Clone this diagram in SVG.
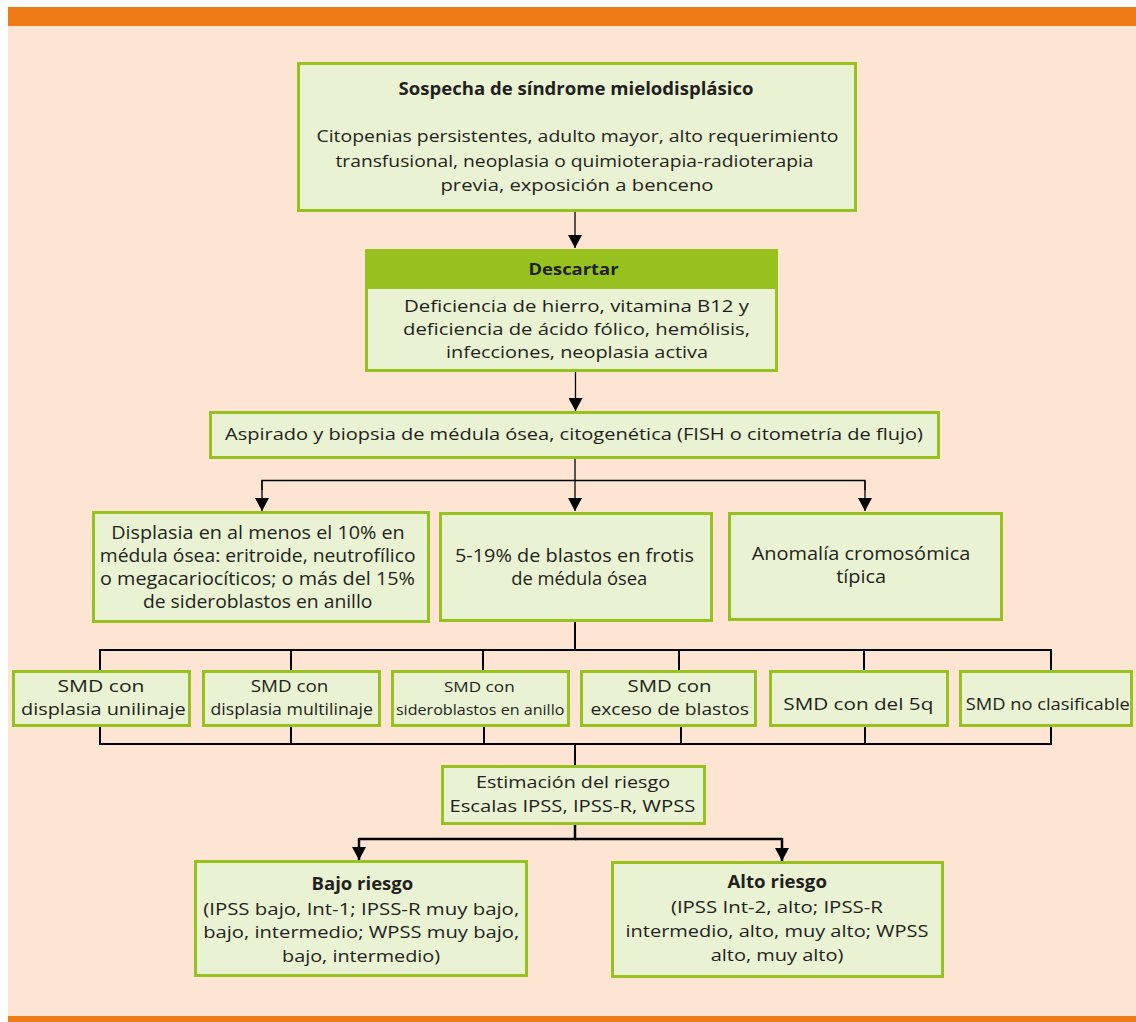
<svg xmlns="http://www.w3.org/2000/svg" width="1136" height="1022" viewBox="0 0 1136 1022">
<defs>
<style>
.box{fill:#e9f2d2;stroke:#97c11f;stroke-width:3}
.hdr{fill:#97c11f;stroke:#97c11f;stroke-width:3}
text{font-family:"Open Sans","Liberation Sans",sans-serif;fill:#231f20;text-anchor:middle}
.b{font-weight:bold}
.thin{fill:none;stroke:#000;stroke-width:1.3}
.thick{fill:none;stroke:#000;stroke-width:2}
.thick3{fill:none;stroke:#000;stroke-width:2.5}
</style>
<marker id="ah" viewBox="0 0 13 14" refX="13" refY="7" markerWidth="13" markerHeight="14" markerUnits="userSpaceOnUse" orient="auto">
<path d="M0,0 L13,7 L0,14 z" fill="#000"/>
</marker>
</defs>
<rect x="0" y="0" width="1136" height="1022" fill="#ffffff"/>
<rect x="8" y="7" width="1128" height="1015" fill="#fde4d3"/>
<rect x="8" y="7" width="1128" height="19" fill="#ef7b17"/>
<rect x="8" y="1016" width="1128" height="6" fill="#ef7b17"/>

<g id="connectors">
<line class="thin" x1="575" y1="212" x2="575" y2="248" marker-end="url(#ah)"/>
<line class="thin" x1="575.5" y1="372" x2="575.5" y2="411" marker-end="url(#ah)"/>
<line class="thin" x1="575" y1="459" x2="575" y2="511" marker-end="url(#ah)"/>
<polyline class="thin" points="262,490 262,480.5 865,480.5 865,490"/>
<line class="thin" x1="262" y1="480.5" x2="262" y2="511" marker-end="url(#ah)"/>
<line class="thin" x1="865" y1="480.5" x2="865" y2="511" marker-end="url(#ah)"/>
<line class="thick" x1="575" y1="622" x2="575" y2="650"/>
<polyline class="thick" points="100,670 100,650 1051,650 1051,670"/>
<line class="thick" x1="291" y1="650" x2="291" y2="670"/>
<line class="thick" x1="483" y1="650" x2="483" y2="670"/>
<line class="thick" x1="679" y1="650" x2="679" y2="670"/>
<line class="thick" x1="864" y1="650" x2="864" y2="670"/>
<polyline class="thick" points="100,727 100,744 1051,744 1051,727"/>
<line class="thick" x1="291" y1="727" x2="291" y2="744"/>
<line class="thick" x1="484" y1="727" x2="484" y2="744"/>
<line class="thick" x1="681" y1="727" x2="681" y2="744"/>
<line class="thick" x1="865" y1="727" x2="865" y2="744"/>
<line class="thick" x1="575" y1="744" x2="575" y2="765"/>
<polyline class="thick3" points="575,825 575,839 359,839"/>
<line class="thick3" x1="359" y1="838" x2="359" y2="860" marker-end="url(#ah)"/>
<polyline class="thick3" points="575,839 782,839"/>
<line class="thick3" x1="782" y1="838" x2="782" y2="861" marker-end="url(#ah)"/>
</g>

<g id="n-sospecha">
<rect class="box" x="298.5" y="63.5" width="557" height="147"/>
<text class="b" x="576" y="95" font-size="17" textLength="355" lengthAdjust="spacingAndGlyphs">Sospecha de síndrome mielodisplásico</text>
<text x="577.5" y="142" font-size="17" textLength="522" lengthAdjust="spacingAndGlyphs">Citopenias persistentes, adulto mayor, alto requerimiento</text>
<text x="574.5" y="166.5" font-size="17" textLength="478" lengthAdjust="spacingAndGlyphs">transfusional, neoplasia o quimioterapia-radioterapia</text>
<text x="577" y="190.5" font-size="17" textLength="273" lengthAdjust="spacingAndGlyphs">previa, exposición a benceno</text>
</g>

<g id="n-descartar">
<rect class="box" x="366.5" y="250.5" width="410" height="120"/>
<rect class="hdr" x="366.5" y="250.5" width="410" height="37"/>
<text class="b" x="573.5" y="275" font-size="16.5" textLength="90" lengthAdjust="spacingAndGlyphs">Descartar</text>
<text x="576.5" y="312" font-size="17" textLength="345" lengthAdjust="spacingAndGlyphs">Deficiencia de hierro, vitamina B12 y</text>
<text x="576.5" y="335" font-size="17" textLength="347" lengthAdjust="spacingAndGlyphs">deficiencia de ácido fólico, hemólisis,</text>
<text x="577" y="358" font-size="17" textLength="262" lengthAdjust="spacingAndGlyphs">infecciones, neoplasia activa</text>
</g>

<g id="n-aspirado">
<rect class="box" x="210.5" y="412.5" width="728" height="45"/>
<text x="574" y="440" font-size="17" textLength="698" lengthAdjust="spacingAndGlyphs">Aspirado y biopsia de médula ósea, citogenética (FISH o citometría de flujo)</text>
</g>

<g id="n-displasia">
<rect class="box" x="93.5" y="512.5" width="335" height="109"/>
<text x="258" y="539" font-size="17.5" textLength="293.5" lengthAdjust="spacingAndGlyphs">Displasia en al menos el 10% en</text>
<text x="257.7" y="562" font-size="17.5" textLength="315.7" lengthAdjust="spacingAndGlyphs">médula ósea: eritroide, neutrofílico</text>
<text x="257.5" y="585" font-size="17.5" textLength="315" lengthAdjust="spacingAndGlyphs">o megacariocíticos; o más del 15%</text>
<text x="257.7" y="608" font-size="17.5" textLength="229.5" lengthAdjust="spacingAndGlyphs">de sideroblastos en anillo</text>
</g>

<g id="n-blastos">
<rect class="box" x="440.5" y="513.5" width="271" height="107"/>
<text x="574.4" y="562" font-size="17.5" textLength="239" lengthAdjust="spacingAndGlyphs">5-19% de blastos en frotis</text>
<text x="579.2" y="585" font-size="17.5" textLength="136" lengthAdjust="spacingAndGlyphs">de médula ósea</text>
</g>

<g id="n-anomalia">
<rect class="box" x="729.5" y="513.5" width="272" height="106"/>
<text x="861" y="560" font-size="17.5" textLength="218.6" lengthAdjust="spacingAndGlyphs">Anomalía cromosómica</text>
<text x="861.2" y="583" font-size="17.5" textLength="50" lengthAdjust="spacingAndGlyphs">típica</text>
</g>

<g id="n-smd1">
<rect class="box" x="13.5" y="671.5" width="176" height="54"/>
<text x="101" y="692" font-size="17" textLength="87" lengthAdjust="spacingAndGlyphs">SMD con</text>
<text x="103.3" y="715" font-size="17" textLength="164.6" lengthAdjust="spacingAndGlyphs">displasia unilinaje</text>
</g>

<g id="n-smd2">
<rect class="box" x="203.5" y="671.5" width="176" height="54"/>
<text x="289.5" y="692" font-size="17" textLength="77.7" lengthAdjust="spacingAndGlyphs">SMD con</text>
<text x="291.7" y="715" font-size="17" textLength="162.5" lengthAdjust="spacingAndGlyphs">displasia multilinaje</text>
</g>

<g id="n-smd3">
<rect class="box" x="392.5" y="671.5" width="176" height="54"/>
<text x="479.3" y="692" font-size="15" textLength="70.7" lengthAdjust="spacingAndGlyphs">SMD con</text>
<text x="480.2" y="715" font-size="15" textLength="168.5" lengthAdjust="spacingAndGlyphs">sideroblastos en anillo</text>
</g>

<g id="n-smd4">
<rect class="box" x="581.5" y="671.5" width="174" height="54"/>
<text x="669.6" y="692" font-size="17" textLength="84" lengthAdjust="spacingAndGlyphs">SMD con</text>
<text x="669.7" y="715" font-size="17" textLength="158.5" lengthAdjust="spacingAndGlyphs">exceso de blastos</text>
</g>

<g id="n-smd5">
<rect class="box" x="770.5" y="671.5" width="177" height="54"/>
<text x="858.3" y="710" font-size="17" textLength="150" lengthAdjust="spacingAndGlyphs">SMD con del 5q</text>
</g>

<g id="n-smd6">
<rect class="box" x="960.5" y="671.5" width="171" height="54"/>
<text x="1047.8" y="710" font-size="16" textLength="164" lengthAdjust="spacingAndGlyphs">SMD no clasificable</text>
</g>

<g id="n-estimacion">
<rect class="box" x="442.5" y="766.5" width="262" height="57"/>
<text x="573" y="788" font-size="17" textLength="194" lengthAdjust="spacingAndGlyphs">Estimación del riesgo</text>
<text x="572.4" y="812" font-size="17" textLength="246" lengthAdjust="spacingAndGlyphs">Escalas IPSS, IPSS-R, WPSS</text>
</g>

<g id="n-bajo">
<rect class="box" x="195.5" y="861.5" width="331" height="114"/>
<text class="b" x="362.4" y="890" font-size="17" textLength="101.6" lengthAdjust="spacingAndGlyphs">Bajo riesgo</text>
<text x="361.2" y="915" font-size="17" textLength="316" lengthAdjust="spacingAndGlyphs">(IPSS bajo, Int-1; IPSS-R muy bajo,</text>
<text x="361.2" y="938" font-size="17" textLength="316" lengthAdjust="spacingAndGlyphs">bajo, intermedio; WPSS muy bajo,</text>
<text x="361.1" y="962" font-size="17" textLength="158" lengthAdjust="spacingAndGlyphs">bajo, intermedio)</text>
</g>

<g id="n-alto">
<rect class="box" x="612.5" y="862.5" width="330" height="114"/>
<text class="b" x="777.2" y="888" font-size="17" textLength="99.5" lengthAdjust="spacingAndGlyphs">Alto riesgo</text>
<text x="776.9" y="913" font-size="17" textLength="212" lengthAdjust="spacingAndGlyphs">(IPSS Int-2, alto; IPSS-R</text>
<text x="777" y="937" font-size="17" textLength="303" lengthAdjust="spacingAndGlyphs">intermedio, alto, muy alto; WPSS</text>
<text x="777" y="961" font-size="17" textLength="132.7" lengthAdjust="spacingAndGlyphs">alto, muy alto)</text>
</g>
</svg>
